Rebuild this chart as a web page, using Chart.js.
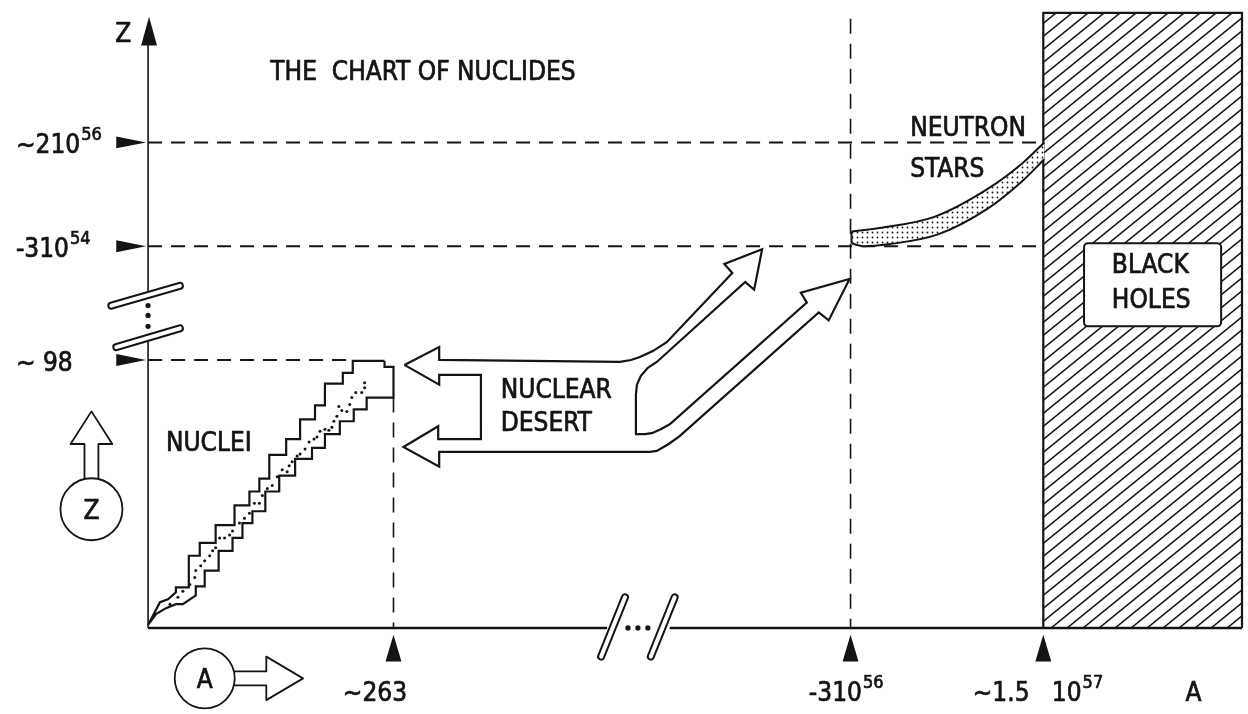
<!DOCTYPE html>
<html>
<head>
<meta charset="utf-8">
<script src="https://cdn.jsdelivr.net/npm/chart.js@4.4.1/dist/chart.umd.min.js"></script>
<style>
    html, body { margin: 0; padding: 0; background: #fff; }
    #wrap { width: 1248px; height: 714px; }
</style>
</head>
<body>
<div id="wrap"><canvas id="nuclides" width="1248" height="714"></canvas></div>
<script>
(function () {
    'use strict';

    // schematic units: A runs along x, Z along y (both axes are broken)
    const zTickValues = [271, 386, 491];
    const zTickText = ['~ 98', '-310', '~210'];
    const zTickSup = ['', '54', '56'];

    const aTickValues = [247, 707, 901];
    const aTickText = ['~263', '-310', '~1.5   10'];
    const aTickSup = ['', '56', '57'];

    const aBreak = [462, 525];
    const zBreak = [293, 337];

    // island of known nuclei (staircase outline)
    const nucleiUpper = [
        [238, 270], [206, 270], [206, 258], [196, 258], [196, 247], [178, 247], [178, 225],
        [168, 225], [168, 211], [153, 211], [153, 191], [139, 191], [139, 175], [122, 175],
        [122, 151], [112, 151], [112, 138], [102, 138], [102, 124], [87, 124], [87, 104],
        [68, 104], [68, 86], [52, 86], [52, 73], [41, 73], [41, 41], [28, 41], [28, 36],
        [20, 29], [12, 26], [0, 3]
    ];
    const nucleiLower = [
        [8, 14], [18, 20], [28, 24], [35, 24], [48, 33], [48, 42], [57, 42], [57, 58],
        [71, 58], [71, 78], [85, 78], [85, 91], [95, 91], [95, 106], [105, 106], [105, 118],
        [118, 118], [118, 138], [132, 138], [132, 154], [148, 154], [148, 171], [165, 171],
        [165, 182], [178, 182], [178, 196], [193, 196], [193, 209], [207, 209], [207, 221],
        [220, 221], [220, 233], [247, 233], [247, 264], [238, 264], [238, 270]
    ];
    const stableNuclei = [
        [218, 248], [218, 243], [215, 238], [209, 238], [205, 233], [203, 226], [200, 219],
        [195, 220], [192, 224], [190, 214], [187, 209], [185, 203], [182, 200], [178, 201],
        [173, 199], [170, 193], [167, 191], [162, 188], [158, 181], [153, 176], [150, 174],
        [145, 168], [142, 164], [140, 158], [135, 160], [130, 153], [125, 144], [120, 141],
        [115, 134], [112, 126], [107, 126], [102, 116], [97, 111], [92, 106], [85, 98],
        [82, 94], [77, 91], [72, 91], [68, 81], [65, 78], [62, 73], [57, 68], [53, 63],
        [48, 58], [47, 51], [42, 44], [35, 37], [30, 31], [22, 24]
    ];

    // the double arrow through the nuclear desert
    const desertOutline = [
        [258, 266], [293, 284], [293, 271], [475, 269], [486, 271], [495, 274], [508, 280],
        [522, 289], [588, 359], [580, 368], [618, 383], [610, 342], [601, 350], [512, 269],
        [503, 263], [496, 255], [492, 246], [491, 236], [491, 196], [500, 196], [507, 197],
        [516, 201], [525, 206], [663, 329], [657, 339], [706, 353], [685, 311], [675, 319],
        [535, 194], [524, 186], [512, 179], [505, 178], [293, 178], [293, 163], [257, 183],
        [292, 204], [292, 191], [335, 191], [335, 256], [293, 256], [293, 246], [258, 266]
    ];

    // neutron star band
    const neutronTop = [[708, 401], [740, 405], [792, 416], [845, 444], [880, 470], [902, 491]];
    const neutronBottom = [[708, 389], [720, 386], [745, 388], [795, 398], [845, 424], [880, 452], [902, 474]];

    const blackHoleRegion = [[901, 0], [901, 622], [1101, 622], [1101, 0]];

    const guideLines = [
        [[0, 491], [901, 491]],
        [[0, 386], [901, 386]],
        [[0, 271], [206, 271]],
        [[247, 233], [247, 0]],
        [[707, 616], [707, 0]]
    ];

    const textLabels = [
        { text: 'THE  CHART OF NUCLIDES', x: 123, y: 554 },
        { text: 'Z', x: -33, y: 593 },
        { text: 'NUCLEI', x: 18, y: 179 },
        { text: 'NUCLEAR', x: 355, y: 233 },
        { text: 'DESERT', x: 355, y: 199 },
        { text: 'NEUTRON', x: 767, y: 498 },
        { text: 'STARS', x: 767, y: 456 },
        { text: 'BLACK', x: 970, y: 359 },
        { text: 'HOLES', x: 970, y: 324 },
        { text: 'A', x: 1044, y: -74 }
    ];
    const aLabelLeft = [196, 665, 830];

    const ink = '#141414';
    const fontFamily = '"Liberation Sans Narrow", "DejaVu Sans Condensed", sans-serif';

    function toPoints(arr) {
        return arr.map(p => ({ x: p[0], y: p[1] }));
    }

    function outline(points, extra) {
        return Object.assign({
            data: toPoints(points),
            showLine: true,
            fill: false,
            tension: 0,
            borderColor: ink,
            borderWidth: 2,
            pointRadius: 0,
            pointHoverRadius: 0
        }, extra || {});
    }

    function hatchPattern() {
        const w = 16, h = 13;
        const c = document.createElement('canvas');
        c.width = w; c.height = h;
        const g = c.getContext('2d');
        g.strokeStyle = ink;
        g.lineWidth = 1.5;
        [0, h, 2 * h].forEach(k => {
            g.beginPath();
            g.moveTo(-2, k + 2 * h / w);
            g.lineTo(w + 2, k - (w + 2) * h / w);
            g.stroke();
        });
        return g.createPattern(c, 'repeat');
    }

    function stipplePattern() {
        const c = document.createElement('canvas');
        c.width = 5; c.height = 5;
        const g = c.getContext('2d');
        g.fillStyle = '#fff';
        g.fillRect(0, 0, 5, 5);
        g.fillStyle = ink;
        g.beginPath();
        g.arc(2.5, 2.5, 0.9, 0, Math.PI * 2);
        g.fill();
        return g.createPattern(c, 'repeat');
    }

    function setFont(ctx, size) {
        ctx.font = size + 'px ' + fontFamily;
    }

    // slightly heavier strokes, like stencil lettering
    function ink_text(ctx, text, x, y) {
        ctx.fillText(text, x, y);
        ctx.lineWidth = 0.7;
        ctx.strokeText(text, x, y);
    }

    function labelWithSup(ctx, text, sup, x, y, supY) {
        setFont(ctx, 26);
        ink_text(ctx, text, x, y);
        if (sup) {
            const w = ctx.measureText(text).width;
            setFont(ctx, 18);
            ink_text(ctx, sup, x + w + 1, supY);
        }
    }

    function barPair(ctx, a, b) {
        ctx.save();
        ctx.lineCap = 'round';
        ctx.strokeStyle = ink;
        ctx.lineWidth = 8;
        ctx.beginPath(); ctx.moveTo(a[0], a[1]); ctx.lineTo(b[0], b[1]); ctx.stroke();
        ctx.strokeStyle = '#fff';
        ctx.lineWidth = 4;
        ctx.beginPath(); ctx.moveTo(a[0], a[1]); ctx.lineTo(b[0], b[1]); ctx.stroke();
        ctx.restore();
    }

    const sketch = {
        id: 'sketch',
        afterDatasetsDraw(chart) {
            const ctx = chart.ctx;
            const X = v => chart.scales.x.getPixelForValue(v);
            const Y = v => chart.scales.y.getPixelForValue(v);
            ctx.save();
            ctx.fillStyle = ink;
            ctx.strokeStyle = ink;
            ctx.lineJoin = 'round';

            // white label box inside the hatched black-hole region
            ctx.fillStyle = '#fff';
            ctx.lineWidth = 2;
            ctx.beginPath();
            ctx.roundRect(X(942), Y(389), X(1080) - X(942), Y(305) - Y(389), 4);
            ctx.fill();
            ctx.stroke();
            ctx.fillStyle = ink;

            // Z axis arrow head
            ctx.beginPath();
            ctx.moveTo(X(1), Y(618));
            ctx.lineTo(X(-7), Y(589));
            ctx.lineTo(X(9), Y(589));
            ctx.closePath();
            ctx.fill();

            // Z ticks: filled triangles pointing at the axis
            zTickValues.forEach((v, i) => {
                ctx.beginPath();
                ctx.moveTo(X(-2), Y(v));
                ctx.lineTo(X(-32), Y(v + 6));
                ctx.lineTo(X(-32), Y(v - 6));
                ctx.closePath();
                ctx.fill();
                labelWithSup(ctx, zTickText[i], zTickSup[i], X(-133), Y(v - 11), Y(v + 2));
            });

            // A ticks: filled triangles pointing up
            aTickValues.forEach((v, i) => {
                ctx.beginPath();
                ctx.moveTo(X(v), Y(-7));
                ctx.lineTo(X(v - 8), Y(-34));
                ctx.lineTo(X(v + 8), Y(-34));
                ctx.closePath();
                ctx.fill();
                labelWithSup(ctx, aTickText[i], aTickSup[i], X(aLabelLeft[i]), Y(-74), Y(-61));
            });

            // axis breaks
            barPair(ctx, [X(-37), Y(326)], [X(32), Y(346)]);
            barPair(ctx, [X(-32), Y(284)], [X(32), Y(303)]);
            barPair(ctx, [X(aBreak[0] - 6), Y(-29)], [X(aBreak[0] + 18), Y(31)]);
            barPair(ctx, [X(aBreak[1] - 19), Y(-29)], [X(aBreak[1] + 5), Y(31)]);
            [305, 316, 326].forEach(v => {
                ctx.beginPath(); ctx.arc(X(0), Y(v), 2.6, 0, Math.PI * 2); ctx.fill();
            });
            [483, 493, 503].forEach(v => {
                ctx.beginPath(); ctx.arc(X(v), Y(0), 2.6, 0, Math.PI * 2); ctx.fill();
            });

            // Z direction symbol: hollow arrow on a circle
            ctx.strokeStyle = ink;
            ctx.lineWidth = 1.8;
            const zc = { x: -57, y: 120, r: 31 };
            const zShaftEnd = zc.y + Math.sqrt(zc.r * zc.r - 7 * 7);
            ctx.beginPath();
            ctx.arc(X(zc.x), Y(zc.y), zc.r, 0, Math.PI * 2);
            ctx.stroke();
            ctx.beginPath();
            ctx.moveTo(X(-64), Y(zShaftEnd));
            ctx.lineTo(X(-64), Y(186));
            ctx.lineTo(X(-78), Y(186));
            ctx.lineTo(X(-57), Y(219));
            ctx.lineTo(X(-36), Y(186));
            ctx.lineTo(X(-50), Y(186));
            ctx.lineTo(X(-50), Y(zShaftEnd));
            ctx.stroke();

            // A direction symbol
            const ac = { x: 57, y: -51, r: 30 };
            const aShaftStart = ac.x + Math.sqrt(ac.r * ac.r - 7 * 7);
            ctx.beginPath();
            ctx.arc(X(ac.x), Y(ac.y), ac.r, 0, Math.PI * 2);
            ctx.stroke();
            ctx.beginPath();
            ctx.moveTo(X(aShaftStart), Y(-44));
            ctx.lineTo(X(119), Y(-44));
            ctx.lineTo(X(119), Y(-29));
            ctx.lineTo(X(156), Y(-51));
            ctx.lineTo(X(119), Y(-73));
            ctx.lineTo(X(119), Y(-58));
            ctx.lineTo(X(aShaftStart), Y(-58));
            ctx.stroke();

            setFont(ctx, 26);
            ctx.textAlign = 'center';
            ink_text(ctx, 'Z', X(zc.x), Y(zc.y - 10));
            ink_text(ctx, 'A', X(ac.x), Y(ac.y - 10));
            ctx.textAlign = 'left';

            textLabels.forEach(l => ink_text(ctx, l.text, X(l.x), Y(l.y)));

            ctx.restore();
        }
    };

    const datasets = [
        {
            data: toPoints(stableNuclei),
            showLine: false,
            pointRadius: 1.5,
            pointBackgroundColor: ink,
            pointBorderWidth: 0
        },
        outline(nucleiUpper.concat(nucleiLower), { borderWidth: 2.2 }),
        outline(desertOutline, { borderWidth: 2.2 }),
        outline([neutronTop[0], neutronBottom[0]]),
        outline(neutronTop, { tension: 0.4, cubicInterpolationMode: 'monotone' }),
        outline(neutronBottom, {
            tension: 0.4,
            cubicInterpolationMode: 'monotone',
            fill: '-1',
            backgroundColor: stipplePattern()
        }),
        // axes
        outline([[0, 0], [0, zBreak[0]]], { borderWidth: 1.6 }),
        outline([[0, zBreak[1]], [0, 592]], { borderWidth: 1.6 }),
        outline([[0, 0], [aBreak[0], 0]], { borderWidth: 2.4 }),
        outline([[aBreak[1], 0], [1101, 0]], { borderWidth: 2.4 })
    ];

    guideLines.forEach((g, i) => {
        datasets.push(outline(g, {
            borderDash: i < 3 ? [14, 9] : [15, 10],
            borderWidth: i < 3 ? 2 : 1.6
        }));
    });

    datasets.push(outline(blackHoleRegion, {
        fill: 'origin',
        backgroundColor: hatchPattern(),
        borderWidth: 2.2
    }));

    new Chart(document.getElementById('nuclides'), {
        type: 'scatter',
        data: { datasets: datasets },
        options: {
            responsive: false,
            animation: false,
            events: [],
            layout: { padding: 0 },
            plugins: {
                legend: { display: false },
                tooltip: { enabled: false }
            },
            scales: {
                x: { type: 'linear', min: -145, max: 1103, display: false },
                y: { type: 'linear', min: -83, max: 631, display: false }
            }
        },
        plugins: [sketch]
    });
})();
</script>
</body>
</html>
